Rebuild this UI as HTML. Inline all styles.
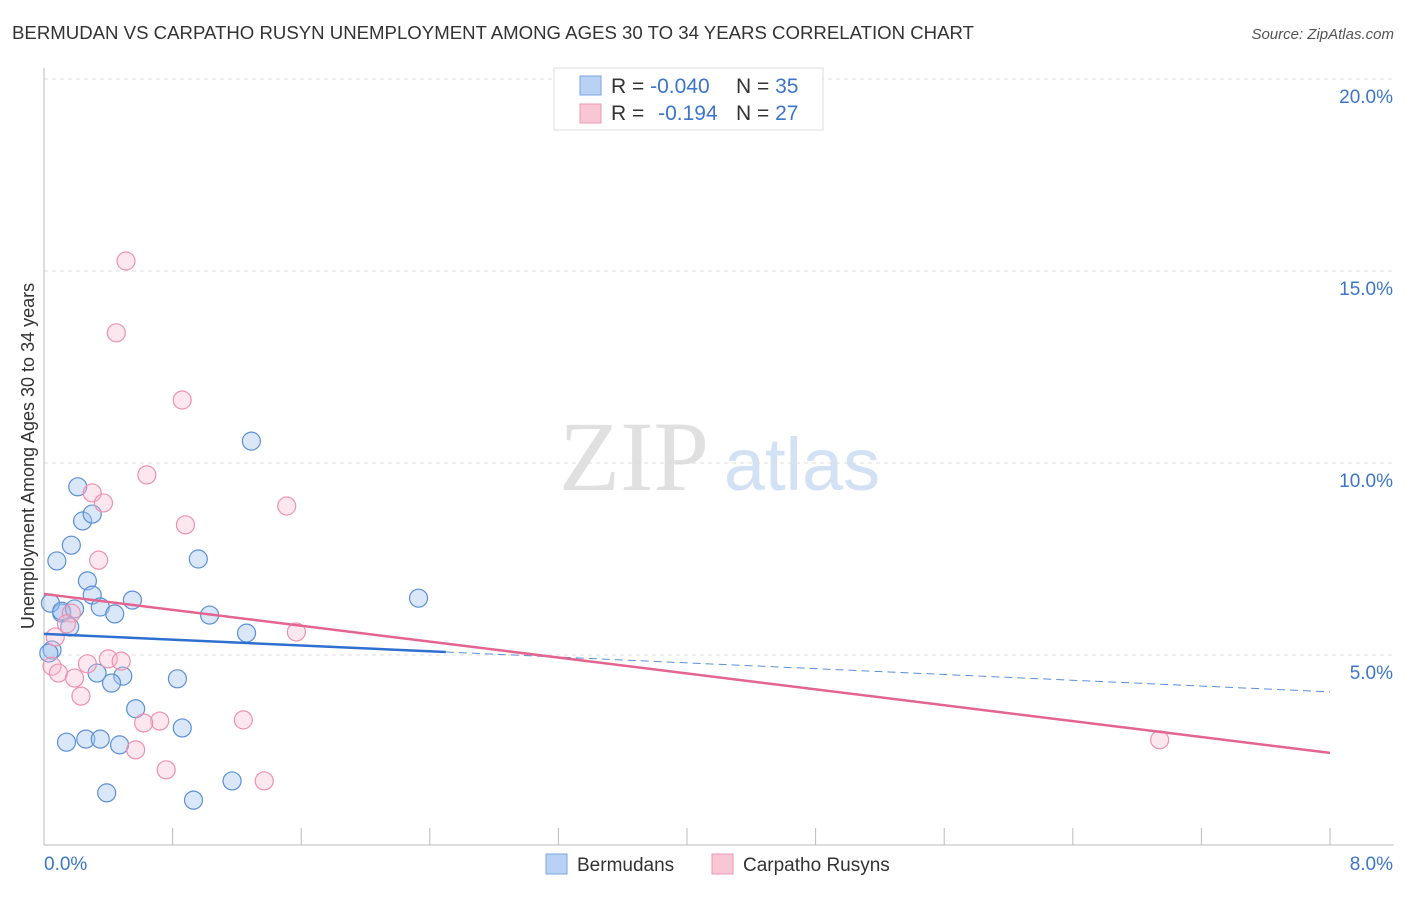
<!DOCTYPE html>
<html><head><meta charset="utf-8"><style>
body{margin:0;background:#fff;font-family:"Liberation Sans",sans-serif}
svg text{font-family:"Liberation Sans",sans-serif}
</style></head><body>
<svg width="1406" height="892" xmlns="http://www.w3.org/2000/svg">
<text x="12" y="39" font-size="18" fill="#333" textLength="962" lengthAdjust="spacingAndGlyphs">BERMUDAN VS CARPATHO RUSYN UNEMPLOYMENT AMONG AGES 30 TO 34 YEARS CORRELATION CHART</text>
<text x="1394" y="39" font-size="15" fill="#555" text-anchor="end" font-style="italic">Source: ZipAtlas.com</text>
<g>
<text x="634" y="490" font-size="100" fill="#e0e0e0" text-anchor="middle" style="font-family:'Liberation Serif',serif">ZIP</text>
<text x="802" y="490" font-size="74" fill="#d3e1f4" text-anchor="middle">atlas</text>
</g>
<g id="grid"></g>
<g id="axes"></g>
<g id="marks"></g>
<text transform="translate(34,456) rotate(-90)" font-size="18" fill="#333" text-anchor="middle">Unemployment Among Ages 30 to 34 years</text>
<g>
<rect x="554" y="68" width="269" height="62" fill="#fff" stroke="#ddd"/>
<rect x="580" y="76" width="21" height="19" fill="#b9d2f4" stroke="#7aa6e2"/>
<rect x="580" y="104" width="21" height="19" fill="#f9c6d5" stroke="#ec9ab3"/>
<text x="611" y="93" font-size="21" fill="#333">R = <tspan fill="#3b76cc">-0.040</tspan></text>
<text x="736" y="93" font-size="21" fill="#333">N = <tspan fill="#3b76cc">35</tspan></text>
<text x="611" y="120" font-size="21" fill="#333">R = <tspan fill="#3b76cc" dx="8">-0.194</tspan></text>
<text x="736" y="120" font-size="21" fill="#333">N = <tspan fill="#3b76cc">27</tspan></text>
</g>
<g>
<rect x="546" y="854" width="21" height="20" fill="#b9d2f4" stroke="#7aa6e2"/>
<text x="577" y="871" font-size="19" fill="#333">Bermudans</text>
<rect x="712" y="854" width="21" height="20" fill="#f9c6d5" stroke="#ec9ab3"/>
<text x="743" y="871" font-size="19" fill="#333">Carpatho Rusyns</text>
</g>
</svg>
<script>
const yTicks=[5,10,15,20];
const yTickLabels=["5.0%","10.0%","15.0%","20.0%"];
const xTickLabels=["0.0%","8.0%"];
const blueX=[0.21,0.24,0.30,0.17,0.08,1.29,0.96,0.27,0.30,0.55,0.35,0.44,1.03,0.11,0.04,0.16,0.11,0.19,1.26,0.05,0.03,2.33,0.33,0.49,0.42,0.83,0.57,0.86,0.14,0.26,0.35,0.47,0.39,1.17,0.93];
const blueY=[9.38,8.49,8.67,7.86,7.45,10.57,7.50,6.93,6.56,6.43,6.25,6.07,6.04,6.09,6.35,5.73,6.14,6.20,5.57,5.13,5.05,6.48,4.53,4.45,4.27,4.38,3.60,3.10,2.73,2.81,2.81,2.66,1.41,1.72,1.22];
const pinkX=[0.51,0.45,0.86,0.64,0.30,0.37,1.51,0.88,0.34,0.17,0.14,0.07,1.57,0.05,0.09,0.27,0.40,0.48,0.19,0.23,0.72,0.62,1.24,0.57,0.76,1.37,6.94];
const pinkY=[15.26,13.39,11.64,9.69,9.22,8.96,8.88,8.39,7.47,6.09,5.81,5.47,5.60,4.71,4.53,4.77,4.90,4.84,4.40,3.93,3.28,3.23,3.31,2.53,2.01,1.72,2.79];
const blueTrend=[5.55,4.04];
const pinkTrend=[6.59,2.45];
const blueSolidEnd=2.5;
const NS="http://www.w3.org/2000/svg";
const X0=44,X1=1330,Y0=847,PY=38.4;
const sx=v=>X0+(X1-X0)*v/8, sy=v=>Y0-v*PY;
function mk(tag,attrs,parent){const e=document.createElementNS(NS,tag);for(const k in attrs)e.setAttribute(k,attrs[k]);document.getElementById(parent).appendChild(e);return e;}
yTicks.forEach((t,i)=>{
 const l=mk('line',{x1:44,x2:1394,y1:sy(t),y2:sy(t),stroke:'#ddd','stroke-dasharray':'4,4'},'grid');
 
 
 const tx=mk('text',{x:1393,y:sy(t)+24,'font-size':19,fill:'#3b76cc','text-anchor':'end'},'axes');
 tx.textContent=yTickLabels[i];
 
 
});
const ya=mk('line',{x1:44,x2:44,y1:68,y2:845,stroke:'#bbb'},'axes');


const xa=mk('line',{x1:44,x2:1394,y1:845,y2:845,stroke:'#bbb'},'axes');


for(let i=0;i<=10;i++){
 const t=mk('line',{x1:sx(i*0.8),x2:sx(i*0.8),y1:828,y2:845,stroke:'#bbb'},'axes');
 
 
}
const xl0=mk('text',{x:44,y:870,'font-size':19,fill:'#3b76cc'},'axes');xl0.textContent=xTickLabels[0];


const xl1=mk('text',{x:1393,y:870,'font-size':19,fill:'#3b76cc','text-anchor':'end'},'axes');xl1.textContent=xTickLabels[1];


blueX.forEach((v,i)=>{
 const c=mk('circle',{cx:sx(v),cy:sy(blueY[i]),r:9,fill:'rgba(160,196,240,0.4)',stroke:'#5b8fd8','stroke-width':1.2},'marks');
 
 
});
pinkX.forEach((v,i)=>{
 const c=mk('circle',{cx:sx(v),cy:sy(pinkY[i]),r:9,fill:'rgba(248,186,205,0.35)',stroke:'#ec92ae','stroke-width':1.2},'marks');
 
 
});
const bt=v=>blueTrend[0]+(blueTrend[1]-blueTrend[0])*v/8;
const b1=mk('line',{x1:sx(0),y1:sy(bt(0)),x2:sx(blueSolidEnd),y2:sy(bt(blueSolidEnd)),stroke:'#2f6fd0','stroke-width':2.5},'marks');


const b2=mk('line',{x1:sx(blueSolidEnd),y1:sy(bt(blueSolidEnd)),x2:sx(8),y2:sy(bt(8)),stroke:'#5b8fd8','stroke-width':1,'stroke-dasharray':'8,5'},'marks');


const p1=mk('line',{x1:sx(0),y1:sy(pinkTrend[0]),x2:sx(8),y2:sy(pinkTrend[1]),stroke:'#e2648f','stroke-width':2.5},'marks');


</script>
</body></html>
